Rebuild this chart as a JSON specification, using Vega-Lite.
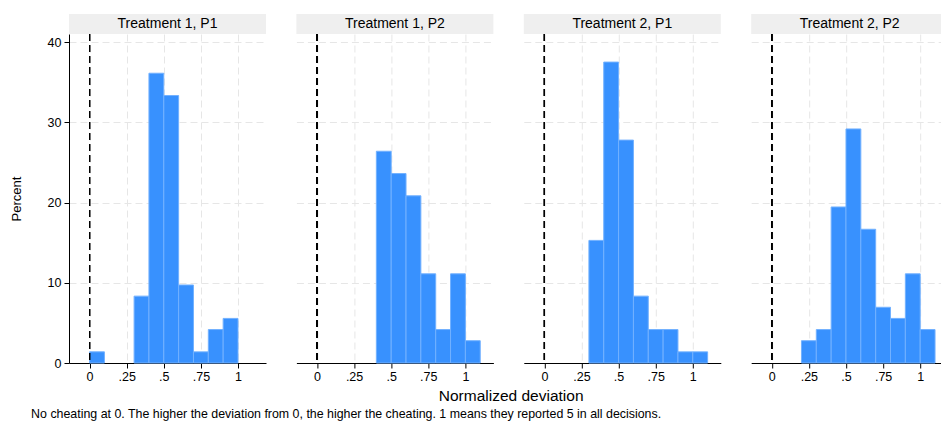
{
  "$schema": "https://vega.github.io/schema/vega-lite/v6.json",
  "padding": {"left": 10, "top": 14, "right": 0, "bottom": 2},
  "datasets": {
    "hist": [
      {"panel": "Treatment 1, P1", "bin_start": 0.0, "bin_end": 0.1, "pct": 1.389},
      {"panel": "Treatment 1, P1", "bin_start": 0.3, "bin_end": 0.4, "pct": 8.333},
      {"panel": "Treatment 1, P1", "bin_start": 0.4, "bin_end": 0.5, "pct": 36.111},
      {"panel": "Treatment 1, P1", "bin_start": 0.5, "bin_end": 0.6, "pct": 33.333},
      {"panel": "Treatment 1, P1", "bin_start": 0.6, "bin_end": 0.7, "pct": 9.722},
      {"panel": "Treatment 1, P1", "bin_start": 0.7, "bin_end": 0.8, "pct": 1.389},
      {"panel": "Treatment 1, P1", "bin_start": 0.8, "bin_end": 0.9, "pct": 4.167},
      {"panel": "Treatment 1, P1", "bin_start": 0.9, "bin_end": 1.0, "pct": 5.556},
      {"panel": "Treatment 1, P2", "bin_start": 0.4, "bin_end": 0.5, "pct": 26.389},
      {"panel": "Treatment 1, P2", "bin_start": 0.5, "bin_end": 0.6, "pct": 23.611},
      {"panel": "Treatment 1, P2", "bin_start": 0.6, "bin_end": 0.7, "pct": 20.833},
      {"panel": "Treatment 1, P2", "bin_start": 0.7, "bin_end": 0.8, "pct": 11.111},
      {"panel": "Treatment 1, P2", "bin_start": 0.8, "bin_end": 0.9, "pct": 4.167},
      {"panel": "Treatment 1, P2", "bin_start": 0.9, "bin_end": 1.0, "pct": 11.111},
      {"panel": "Treatment 1, P2", "bin_start": 1.0, "bin_end": 1.1, "pct": 2.778},
      {"panel": "Treatment 2, P1", "bin_start": 0.3, "bin_end": 0.4, "pct": 15.278},
      {"panel": "Treatment 2, P1", "bin_start": 0.4, "bin_end": 0.5, "pct": 37.5},
      {"panel": "Treatment 2, P1", "bin_start": 0.5, "bin_end": 0.6, "pct": 27.778},
      {"panel": "Treatment 2, P1", "bin_start": 0.6, "bin_end": 0.7, "pct": 8.333},
      {"panel": "Treatment 2, P1", "bin_start": 0.7, "bin_end": 0.8, "pct": 4.167},
      {"panel": "Treatment 2, P1", "bin_start": 0.8, "bin_end": 0.9, "pct": 4.167},
      {"panel": "Treatment 2, P1", "bin_start": 0.9, "bin_end": 1.0, "pct": 1.389},
      {"panel": "Treatment 2, P1", "bin_start": 1.0, "bin_end": 1.1, "pct": 1.389},
      {"panel": "Treatment 2, P2", "bin_start": 0.2, "bin_end": 0.3, "pct": 2.778},
      {"panel": "Treatment 2, P2", "bin_start": 0.3, "bin_end": 0.4, "pct": 4.167},
      {"panel": "Treatment 2, P2", "bin_start": 0.4, "bin_end": 0.5, "pct": 19.444},
      {"panel": "Treatment 2, P2", "bin_start": 0.5, "bin_end": 0.6, "pct": 29.167},
      {"panel": "Treatment 2, P2", "bin_start": 0.6, "bin_end": 0.7, "pct": 16.667},
      {"panel": "Treatment 2, P2", "bin_start": 0.7, "bin_end": 0.8, "pct": 6.944},
      {"panel": "Treatment 2, P2", "bin_start": 0.8, "bin_end": 0.9, "pct": 5.556},
      {"panel": "Treatment 2, P2", "bin_start": 0.9, "bin_end": 1.0, "pct": 11.111},
      {"panel": "Treatment 2, P2", "bin_start": 1.0, "bin_end": 1.1, "pct": 4.167}
    ],
    "strips": [
      {"panel": "Treatment 1, P1"},
      {"panel": "Treatment 1, P2"},
      {"panel": "Treatment 2, P1"},
      {"panel": "Treatment 2, P2"}
    ]
  },
  "title": {
    "text": "No cheating at 0. The higher the deviation from 0, the higher the cheating. 1 means they reported 5 in all decisions.",
    "orient": "bottom", "anchor": "start", "fontSize": 12.4, "fontWeight": "normal", "dx": 21, "offset": 4
  },
  "vconcat": [
    {
      "title": {"text": "Normalized deviation", "orient": "bottom", "anchor": "middle", "fontSize": 15.5, "fontWeight": "normal", "dx": 32, "offset": 6},
      "spacing": 30.4,
      "hconcat": [
        {
          "bounds": "flush", "spacing": 0,
          "vconcat": [
            {"width": 197, "height": 20, "data": {"name": "strips"},
             "transform": [{"filter": {"field": "panel", "equal": "Treatment 1, P1"}}],
             "layer": [
               {"mark": {"type": "rect", "fill": "#efefef"}, "encoding": {}},
               {"mark": {"type": "text", "fontSize": 14, "color": "#000"}, "encoding": {"text": {"field": "panel", "type": "nominal"}}}
             ]},
            {"width": 197, "height": 329, "data": {"name": "hist"},
             "transform": [{"filter": {"field": "panel", "equal": "Treatment 1, P1"}}],
             "layer": [
               {"mark": {"type": "bar", "fill": "#3891fe", "stroke": "#72b1ff", "strokeWidth": 1, "orient": "vertical"},
                "encoding": {
                  "x": {"field": "bin_start", "type": "quantitative", "scale": {"domain": [-0.105, 1.155], "nice": false, "zero": false},
                        "axis": {"values": [0, 0.25, 0.5, 0.75, 1], "title": null, "labelExpr": "datum.value == 0 ? '0' : datum.value == 1 ? '1' : substring(toString(datum.value), 1)"}},
                  "x2": {"field": "bin_end"},
                  "y": {"field": "pct", "type": "quantitative", "scale": {"domain": [0, 41], "nice": false},
                        "axis": {"values": [0, 10, 20, 30, 40], "title": "Percent", "labelPadding": 3, "titlePadding": 24}},
                  "y2": {"datum": 0}
                }},
               {"mark": {"type": "rule", "color": "#000", "strokeDash": [7, 4], "strokeWidth": 1}, "encoding": {"x": {"datum": 0}}}
             ]}
          ]
        },
        {
          "bounds": "flush", "spacing": 0,
          "vconcat": [
            {"width": 197, "height": 20, "data": {"name": "strips"},
             "transform": [{"filter": {"field": "panel", "equal": "Treatment 1, P2"}}],
             "layer": [
               {"mark": {"type": "rect", "fill": "#efefef"}, "encoding": {}},
               {"mark": {"type": "text", "fontSize": 14, "color": "#000"}, "encoding": {"text": {"field": "panel", "type": "nominal"}}}
             ]},
            {"width": 197, "height": 329, "data": {"name": "hist"},
             "transform": [{"filter": {"field": "panel", "equal": "Treatment 1, P2"}}],
             "layer": [
               {"mark": {"type": "bar", "fill": "#3891fe", "stroke": "#72b1ff", "strokeWidth": 1, "orient": "vertical"},
                "encoding": {
                  "x": {"field": "bin_start", "type": "quantitative", "scale": {"domain": [-0.105, 1.155], "nice": false, "zero": false},
                        "axis": {"values": [0, 0.25, 0.5, 0.75, 1], "title": null, "labelExpr": "datum.value == 0 ? '0' : datum.value == 1 ? '1' : substring(toString(datum.value), 1)"}},
                  "x2": {"field": "bin_end"},
                  "y": {"field": "pct", "type": "quantitative", "scale": {"domain": [0, 41], "nice": false},
                        "axis": {"values": [0, 10, 20, 30, 40], "title": null, "labels": false, "ticks": false, "domain": false}},
                  "y2": {"datum": 0}
                }},
               {"mark": {"type": "rule", "color": "#000", "strokeDash": [7, 4], "strokeWidth": 1}, "encoding": {"x": {"datum": 0}}}
             ]}
          ]
        },
        {
          "bounds": "flush", "spacing": 0,
          "vconcat": [
            {"width": 197, "height": 20, "data": {"name": "strips"},
             "transform": [{"filter": {"field": "panel", "equal": "Treatment 2, P1"}}],
             "layer": [
               {"mark": {"type": "rect", "fill": "#efefef"}, "encoding": {}},
               {"mark": {"type": "text", "fontSize": 14, "color": "#000"}, "encoding": {"text": {"field": "panel", "type": "nominal"}}}
             ]},
            {"width": 197, "height": 329, "data": {"name": "hist"},
             "transform": [{"filter": {"field": "panel", "equal": "Treatment 2, P1"}}],
             "layer": [
               {"mark": {"type": "bar", "fill": "#3891fe", "stroke": "#72b1ff", "strokeWidth": 1, "orient": "vertical"},
                "encoding": {
                  "x": {"field": "bin_start", "type": "quantitative", "scale": {"domain": [-0.105, 1.155], "nice": false, "zero": false},
                        "axis": {"values": [0, 0.25, 0.5, 0.75, 1], "title": null, "labelExpr": "datum.value == 0 ? '0' : datum.value == 1 ? '1' : substring(toString(datum.value), 1)"}},
                  "x2": {"field": "bin_end"},
                  "y": {"field": "pct", "type": "quantitative", "scale": {"domain": [0, 41], "nice": false},
                        "axis": {"values": [0, 10, 20, 30, 40], "title": null, "labels": false, "ticks": false, "domain": false}},
                  "y2": {"datum": 0}
                }},
               {"mark": {"type": "rule", "color": "#000", "strokeDash": [7, 4], "strokeWidth": 1}, "encoding": {"x": {"datum": 0}}}
             ]}
          ]
        },
        {
          "bounds": "flush", "spacing": 0,
          "vconcat": [
            {"width": 197, "height": 20, "data": {"name": "strips"},
             "transform": [{"filter": {"field": "panel", "equal": "Treatment 2, P2"}}],
             "layer": [
               {"mark": {"type": "rect", "fill": "#efefef"}, "encoding": {}},
               {"mark": {"type": "text", "fontSize": 14, "color": "#000"}, "encoding": {"text": {"field": "panel", "type": "nominal"}}}
             ]},
            {"width": 197, "height": 329, "data": {"name": "hist"},
             "transform": [{"filter": {"field": "panel", "equal": "Treatment 2, P2"}}],
             "layer": [
               {"mark": {"type": "bar", "fill": "#3891fe", "stroke": "#72b1ff", "strokeWidth": 1, "orient": "vertical"},
                "encoding": {
                  "x": {"field": "bin_start", "type": "quantitative", "scale": {"domain": [-0.105, 1.155], "nice": false, "zero": false},
                        "axis": {"values": [0, 0.25, 0.5, 0.75, 1], "title": null, "labelExpr": "datum.value == 0 ? '0' : datum.value == 1 ? '1' : substring(toString(datum.value), 1)"}},
                  "x2": {"field": "bin_end"},
                  "y": {"field": "pct", "type": "quantitative", "scale": {"domain": [0, 41], "nice": false},
                        "axis": {"values": [0, 10, 20, 30, 40], "title": null, "labels": false, "ticks": false, "domain": false}},
                  "y2": {"datum": 0}
                }},
               {"mark": {"type": "rule", "color": "#000", "strokeDash": [7, 4], "strokeWidth": 1}, "encoding": {"x": {"datum": 0}}}
             ]}
          ]
        }
      ]
    }
  ],
  "config": {
    "font": "Liberation Sans",
    "view": {"stroke": null},
    "axis": {
      "domainColor": "#000", "tickColor": "#000", "labelColor": "#000", "titleColor": "#000",
      "labelFontSize": 12.5, "titleFontSize": 13, "titleFontWeight": "normal", "tickSize": 5,
      "gridColor": "#e6e6e6", "gridDash": [7, 4], "gridWidth": 1, "domainWidth": 1, "grid": true
    },
    "title": {"color": "#000", "fontWeight": "normal"}
  }
}
